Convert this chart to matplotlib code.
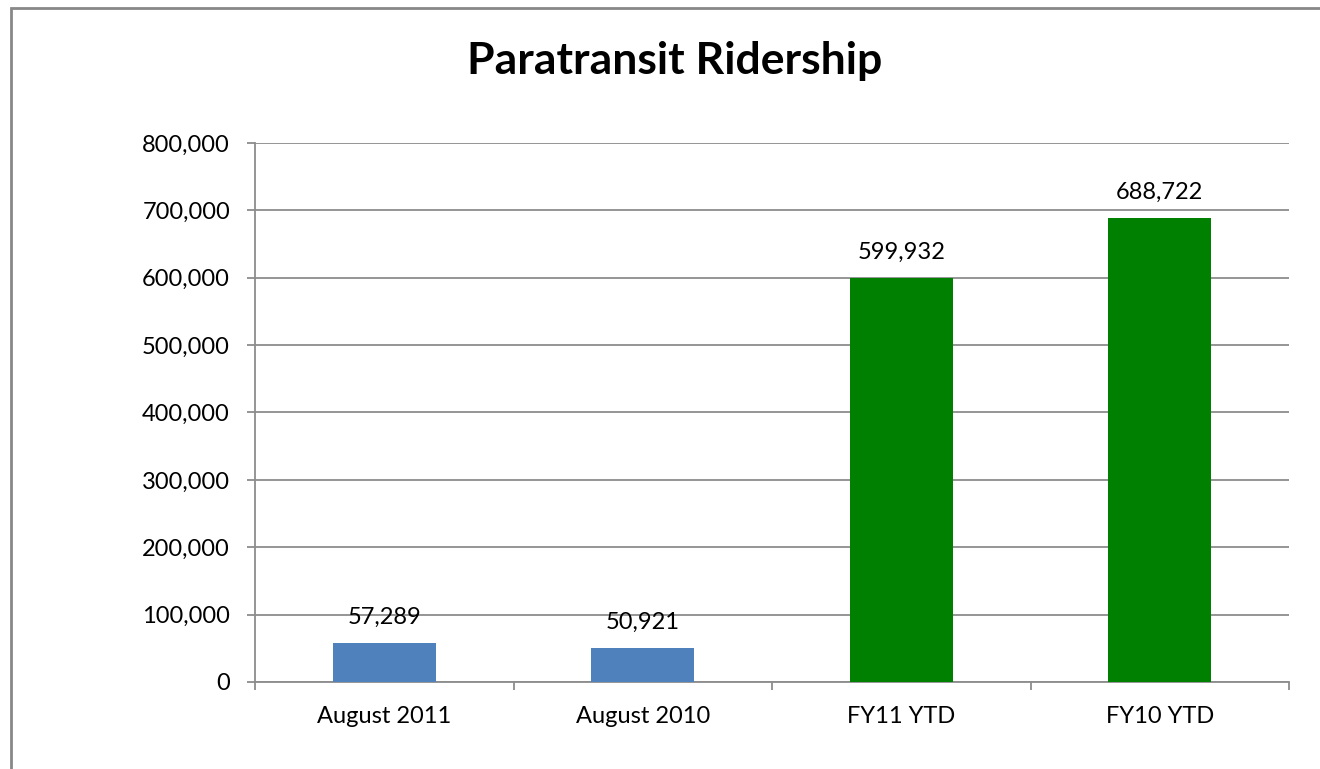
import matplotlib.pyplot as plt
from matplotlib.patches import Rectangle
from matplotlib.ticker import FuncFormatter, MultipleLocator

categories = ["August 2011", "August 2010", "FY11 YTD", "FY10 YTD"]
riders = [57289, 50921, 599932, 688722]
bar_colors = ["#4F81BD", "#4F81BD", "#008000", "#008000"]

plt.rcParams["font.family"] = ["Lato", "DejaVu Sans"]

fig = plt.figure(figsize=(13.2, 7.69), dpi=100)
ax = fig.add_axes([255 / 1320, 1 - 682 / 769, 1034 / 1320, 539 / 769])

# outer chart border (runs off the right and bottom edges)
fig.patches.append(Rectangle((11 / 1320, -0.1), 1.2, 1.1 - 8 / 769,
                             transform=fig.transFigure, fill=False,
                             edgecolor="#888888", linewidth=2))

x = range(len(categories))
ax.bar(x, riders, width=0.4, color=bar_colors, zorder=3)

for i, v in enumerate(riders):
    ax.annotate(f"{v:,}", (i, v), xytext=(0, 11), textcoords="offset points",
                ha="center", va="bottom", fontsize=17, color="black")

ax.set_xlim(-0.5, len(categories) - 0.5)
ax.set_ylim(0, 800000)
ax.yaxis.set_major_locator(MultipleLocator(100000))
ax.yaxis.set_major_formatter(FuncFormatter(lambda v, p: f"{int(v):,}"))
ax.grid(axis="y", color="#8c8c8c", linewidth=1.3, zorder=0)

ax.set_xticks(list(x))
ax.set_xticklabels(categories, fontsize=17)
ax.set_xticks([i - 0.5 for i in range(len(categories) + 1)], minor=True)
ax.tick_params(axis="x", which="major", length=0, pad=17)
ax.tick_params(axis="x", which="minor", length=6, color="#8c8c8c", width=1.3)
ax.tick_params(axis="y", length=6, color="#8c8c8c", width=1.3, labelsize=17, pad=12)

for s in ["top", "right"]:
    ax.spines[s].set_visible(False)
for s in ["left", "bottom"]:
    ax.spines[s].set_color("#8c8c8c")
    ax.spines[s].set_linewidth(1.3)

fig.text(675 / 1320, 1 - 61 / 769, "Paratransit Ridership", ha="center", va="center",
         fontsize=32, fontweight="bold")

fig.savefig("out.png", dpi=100)
